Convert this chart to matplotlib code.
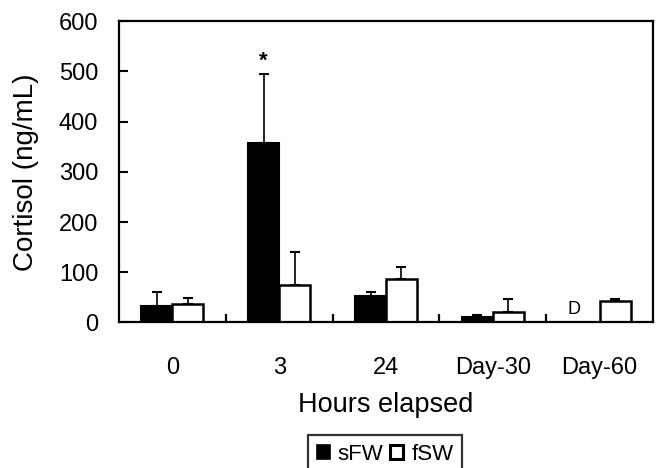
import numpy as np
import matplotlib.pyplot as plt
from matplotlib.patches import Patch

plt.rcParams['font.family'] = ['Liberation Sans', 'DejaVu Sans']

groups = ['0', '3', '24', 'Day-30', 'Day-60']
sfw_mean = [33, 357, 52, 11, np.nan]
sfw_err = [28, 137, 9, 3, 0]
fsw_mean = [36, 74, 87, 20, 43]
fsw_err = [13, 66, 23, 26, 3]

x = np.arange(len(groups))
w = 0.29

fig = plt.figure(figsize=(6.6, 4.68), dpi=100)
ax = fig.add_axes([0.1803, 0.3109, 0.8091, 0.6442])

ax.bar(x - w / 2, sfw_mean, w, color='black', edgecolor='black', linewidth=1.5,
       yerr=[np.zeros(5), sfw_err], capsize=3.5, error_kw=dict(elinewidth=1.2, capthick=1.5, ecolor='black'),
       zorder=2)
ax.bar(x + w / 2, fsw_mean, w, color='white', edgecolor='black', linewidth=1.8,
       yerr=[np.zeros(5), fsw_err], capsize=3.5, error_kw=dict(elinewidth=1.2, capthick=1.5, ecolor='black'),
       zorder=2)

# significance mark and "D" label
ax.text(1 - w / 2, sfw_mean[1] + sfw_err[1] + 6, '*', ha='center', va='bottom',
        fontsize=16, fontweight='bold')
ax.text(3.76, 25, 'D', ha='center', va='center', fontsize=13)

ax.set_xlim(-0.5, 4.5)
ax.set_ylim(0, 600)
ax.set_yticks(range(0, 601, 100))
ax.set_xticks(x)
ax.set_xticklabels(groups)
ax.set_xticks(x[:-1] + 0.5, minor=True)

ax.tick_params(axis='x', which='major', length=0, pad=25, labelsize=17)
ax.tick_params(axis='x', which='minor', direction='in', length=6, width=1.6)
ax.tick_params(axis='y', direction='in', length=6.5, width=1.5, pad=15, labelsize=17)

for s in ax.spines.values():
    s.set_linewidth(1.6)

ax.set_ylabel('Cortisol (ng/mL)', fontsize=20)
ax.yaxis.set_label_coords(-0.174, 0.5)
ax.yaxis.label.set_verticalalignment('center')
ax.set_xlabel('Hours elapsed', fontsize=19.5)
ax.xaxis.set_label_coords(0.5, -0.274)
ax.xaxis.label.set_verticalalignment('center')

handles = [Patch(facecolor='black', edgecolor='black', linewidth=1.2),
           Patch(facecolor='white', edgecolor='black', linewidth=2.2)]
leg = fig.legend(handles, ['sFW', 'fSW'], loc='upper center', ncol=2,
                 bbox_to_anchor=(385 / 660, 1 - 435 / 468), fontsize=16,
                 frameon=True, fancybox=False, handlelength=0.6, handleheight=0.6,
                 handletextpad=0.35, columnspacing=0.3, borderpad=0.4, borderaxespad=0)
leg.get_frame().set_edgecolor('black')
leg.get_frame().set_linewidth(1.6)

fig.savefig('out.png', dpi=100)
